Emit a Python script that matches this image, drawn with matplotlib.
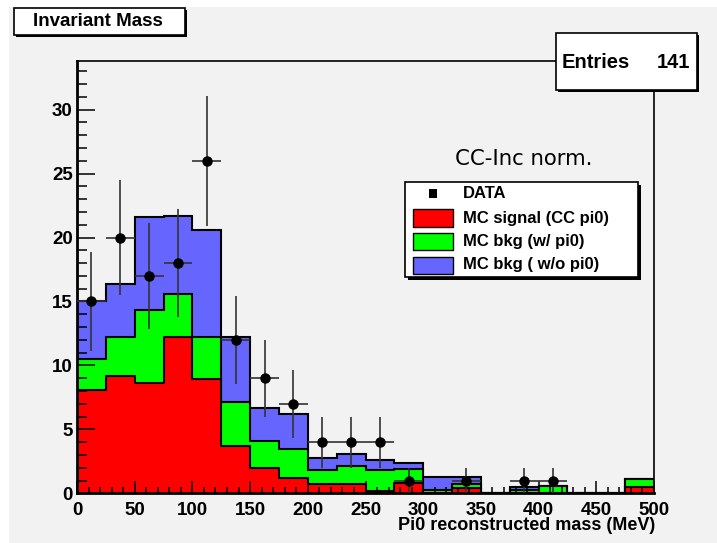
import numpy as np
import matplotlib.pyplot as plt
from matplotlib.patches import Rectangle
from matplotlib.ticker import MultipleLocator

# bin edges (MeV) and contents
edges = np.arange(0, 525, 25)
mc_signal = [8.1, 9.15, 8.65, 12.2, 8.95, 3.7, 1.95, 1.2, 0.75, 0.75,
             0.2, 0.8, 0.0, 0.4, 0.0, 0.0, 0.0, 0.0, 0.0, 0.5]
mc_bkg_pi0 = [2.4, 3.05, 5.65, 3.4, 3.25, 3.4, 2.15, 2.25, 1.05, 1.4,
              1.65, 1.1, 0.25, 0.3, 0.0, 0.26, 0.6, 0.0, 0.0, 0.65]
mc_bkg_nopi0 = [4.5, 4.2, 7.3, 6.1, 8.4, 5.1, 2.6, 2.75, 0.95, 0.9,
                0.75, 0.45, 1.0, 0.55, 0.0, 0.21, 0.0, 0.0, 0.0, 0.0]
data = [15, 20, 17, 18, 26, 12, 9, 7, 4, 4,
        4, 1, 0, 1, 0, 1, 1, 0, 0, 0]
entries = 141

W, H = 717, 543
GREY = "#f2f2f2"
ROOTFONT = "Liberation Sans"


def px(x, y):
    # pixel position (top-left origin) -> figure fraction
    return x / W, 1 - y / H


def box(x0, y0, x1, y1, shadow=3):
    fx, fy = px(x0 + shadow, y1 + shadow)
    fig.add_artist(Rectangle((fx, fy), (x1 - x0) / W, (y1 - y0) / H,
                             transform=fig.transFigure, facecolor="black",
                             edgecolor="none", zorder=9))
    fx, fy = px(x0, y1)
    fig.add_artist(Rectangle((fx, fy), (x1 - x0) / W, (y1 - y0) / H,
                             transform=fig.transFigure, facecolor="white",
                             edgecolor="black", linewidth=1.2, zorder=10))


fig = plt.figure(figsize=(W / 100, H / 100), dpi=100, facecolor="white")

# grey canvas
fig.add_artist(Rectangle(px(9, 543), 1 - 9 / W, (543 - 7) / H,
                         transform=fig.transFigure, facecolor=GREY,
                         edgecolor="none", zorder=-10))

ax = fig.add_axes([77 / W, 1 - 493.3 / H, (654 - 77) / W, (493.3 - 61) / H])
ax.set_facecolor(GREY)

sig = np.array(mc_signal)
tot_pi0 = sig + np.array(mc_bkg_pi0)
tot_all = tot_pi0 + np.array(mc_bkg_nopi0)

ax.stairs(tot_all, edges, fill=True, facecolor="#6666ff", edgecolor="black", linewidth=1.5)
ax.stairs(tot_pi0, edges, fill=True, facecolor="#00ff00", edgecolor="black", linewidth=1.5)
ax.stairs(sig, edges, fill=True, facecolor="#ff0000", edgecolor="black", linewidth=1.5)

centers = (edges[:-1] + edges[1:]) / 2
d = np.array(data, dtype=float)
m = d > 0
ax.errorbar(centers[m], d[m], yerr=np.sqrt(d[m]), xerr=12.5, fmt="o",
            color="black", ms=6.5, ecolor="#333333", elinewidth=1.2,
            capsize=0, zorder=5)

ax.set_xlim(0, 500)
ax.set_ylim(0, 33.8)
ax.xaxis.set_major_locator(MultipleLocator(50))
ax.xaxis.set_minor_locator(MultipleLocator(10))
ax.yaxis.set_major_locator(MultipleLocator(5))
ax.yaxis.set_minor_locator(MultipleLocator(1))
ax.tick_params(axis="y", which="major", direction="in", length=13, width=1.1, pad=3)
ax.tick_params(axis="y", which="minor", direction="in", length=7, width=1.1)
ax.tick_params(axis="x", which="major", direction="in", length=9, width=1.1, pad=6)
ax.tick_params(axis="x", which="minor", direction="in", length=4.5, width=1.1)
for lab in ax.get_xticklabels() + ax.get_yticklabels():
    lab.set_fontfamily(ROOTFONT)
    lab.set_fontweight("bold")
    lab.set_fontsize(13.5)
for s in ["left", "bottom"]:
    ax.spines[s].set_linewidth(2)
for s in ["top", "right"]:
    ax.spines[s].set_linewidth(1.2)

fig.text(*px(655, 526), "Pi0 reconstructed mass (MeV)", ha="right", va="center",
         fontfamily=ROOTFONT, fontweight="bold", fontsize=13)

# title box
box(14, 8, 185, 35, shadow=2)
fig.text(*px(98, 22), "Invariant Mass", ha="center", va="center",
         fontfamily=ROOTFONT, fontweight="bold", fontsize=13.5, zorder=11)

# stats box
box(556, 33, 697, 90, shadow=2)
fig.text(*px(562, 63), "Entries", ha="left", va="center",
         fontfamily=ROOTFONT, fontweight="bold", fontsize=14.5, zorder=11)
fig.text(*px(690, 63), str(entries), ha="right", va="center",
         fontfamily=ROOTFONT, fontweight="bold", fontsize=14.5, zorder=11)

fig.text(*px(524, 159), "CC-Inc norm.", ha="center", va="center",
         fontfamily="DejaVu Sans", fontsize=15.3)

# legend
box(405, 182, 638, 277, shadow=3)
labels = ["DATA", "MC signal (CC pi0)", "MC bkg (w/ pi0)", "MC bkg ( w/o pi0)"]
colors = [None, "#ff0000", "#00ff00", "#6666ff"]
rows = [194, 218, 241.5, 265]
for lab, c, y in zip(labels, colors, rows):
    if c is None:
        fig.add_artist(Rectangle(px(429, y + 4), 8 / W, 9 / H,
                                 transform=fig.transFigure, facecolor="black",
                                 edgecolor="none", zorder=11))
    else:
        fig.add_artist(Rectangle(px(413, y + 8.5), 40 / W, 17 / H,
                                 transform=fig.transFigure, facecolor=c,
                                 edgecolor="black", linewidth=1, zorder=11))
    fig.text(*px(463, y), lab, ha="left", va="center",
             fontfamily=ROOTFONT, fontweight="bold", fontsize=12, zorder=11)

fig.savefig("out.png", dpi=100)
